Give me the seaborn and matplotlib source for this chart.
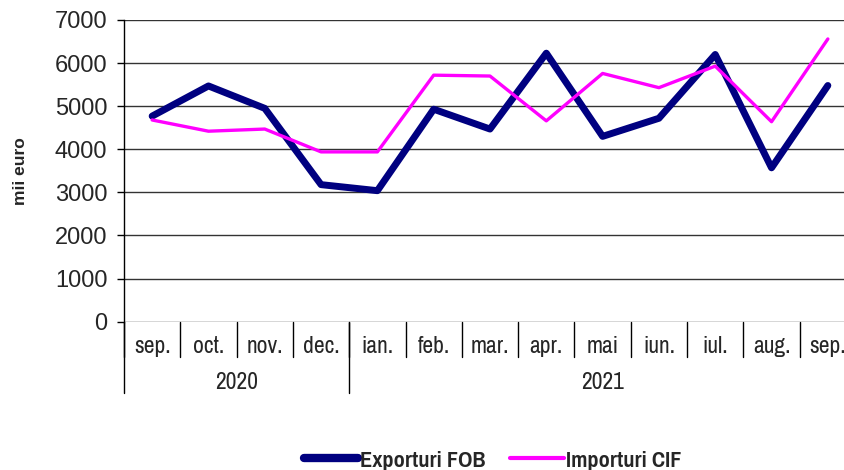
import numpy as np
import pandas as pd
import matplotlib
matplotlib.use("Agg")
import matplotlib.pyplot as plt
import seaborn as sns
from matplotlib.lines import Line2D

# date lunare (mii euro)
luni = ["sep.", "oct.", "nov.", "dec.", "ian.", "feb.", "mar.", "apr.",
        "mai", "iun.", "iul.", "aug.", "sep."]
ani = ["2020", "2021"]
luni_pe_an = [4, 9]
exporturi = [4770, 5470, 4950, 3180, 3040, 4930, 4470, 6230, 4300, 4720, 6200, 3570, 5480]
importuri = [4680, 4420, 4470, 3940, 3940, 5720, 5700, 4660, 5760, 5430, 5930, 4640, 6560]

sns.set_style("white")
plt.rcParams['font.family'] = ['Liberation Sans', 'DejaVu Sans']
narrow = ['Archivo Narrow', 'Liberation Sans', 'DejaVu Sans']
narrow_bold = ['Pragati Narrow', 'PT Sans Narrow', 'Liberation Sans', 'DejaVu Sans']

df = pd.DataFrame({
    "idx": np.arange(len(luni)),
    "Exporturi FOB": exporturi,
    "Importuri CIF": importuri,
})

fig = plt.figure(figsize=(8.45, 4.7), dpi=100)
ax = fig.add_axes([124 / 845, 1 - 321.7 / 470, (856 - 124) / 845, 301.7 / 470])

sns.lineplot(data=df, x="idx", y="Exporturi FOB", ax=ax, color="#000080", linewidth=5)
sns.lineplot(data=df, x="idx", y="Importuri CIF", ax=ax, color="#ff00ff", linewidth=2.4)

ax.set_xlim(-0.5, len(luni) - 0.5)
ax.set_ylim(0, 7000)
ax.set_yticks(np.arange(0, 7001, 1000))
ax.grid(axis="y", color="#333333", linewidth=1)
ax.set_axisbelow(True)
for s in ["top", "right", "bottom"]:
    ax.spines[s].set_visible(False)
ax.spines["left"].set_color("black")
ax.spines["left"].set_linewidth(1)
ax.tick_params(axis="y", left=True, length=5, width=1, color="black", pad=7, labelsize=17)

# etichete luni
ax.set_xticks(np.arange(len(luni)))
ax.set_xticklabels(luni, fontfamily=narrow, fontsize=17)
ax.tick_params(axis="x", length=0, pad=10)
ax.set_xlabel("")

tr = ax.get_xaxis_transform()
for b in np.arange(len(luni) + 1) - 0.5:
    ax.plot([b, b], [0, -0.117], transform=tr, color="black", lw=1, clip_on=False)

# etichete ani
start = -0.5
for an, n in zip(ani, luni_pe_an):
    ax.plot([start, start], [0, -0.236], transform=tr, color="black", lw=1, clip_on=False)
    ax.text(start + n / 2, -0.2, an, transform=tr, ha="center", va="center",
            fontfamily=narrow, fontsize=17)
    start += n

ax.set_ylabel("mii euro", fontsize=12.5, fontweight="bold", labelpad=19)

handles = [Line2D([], [], color="#000080", lw=6, solid_capstyle="round"),
           Line2D([], [], color="#ff00ff", lw=3, solid_capstyle="round")]
fig.legend(handles, ["Exporturi FOB", "Importuri CIF"], loc="center",
           bbox_to_anchor=(493 / 845, 1 - 460 / 470), ncol=2, frameon=False,
           handlelength=2.2, handletextpad=0.1, columnspacing=1.0,
           prop={"family": narrow_bold, "weight": "bold", "size": 17.5})

fig.savefig("out.png", dpi=100)
